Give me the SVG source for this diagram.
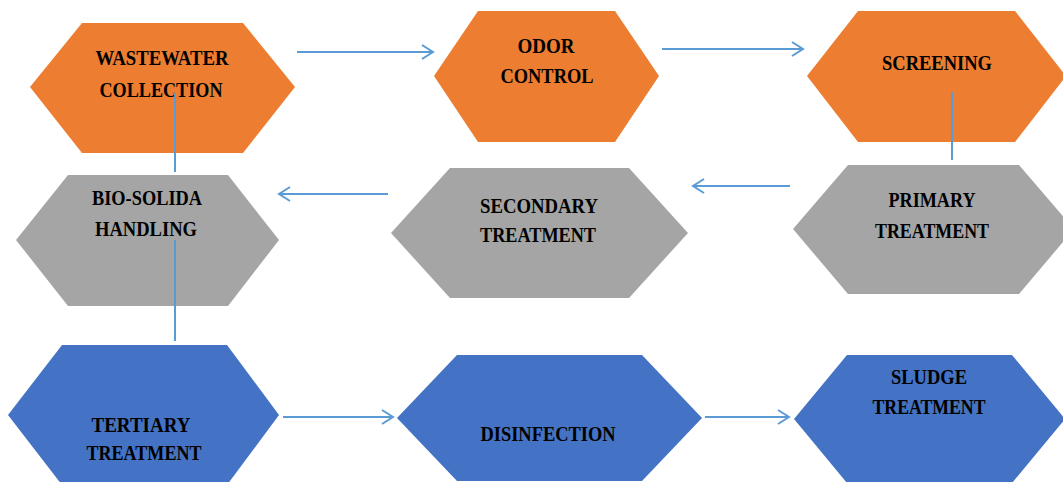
<svg xmlns="http://www.w3.org/2000/svg" width="1063" height="482" viewBox="0 0 1063 482">
<style>
.orange{fill:#ED7D31}
.gray{fill:#A5A5A5}
.blue{fill:#4472C4}
.lbl{font-family:"Liberation Serif","Times New Roman",serif;font-weight:bold;font-size:21px;fill:#000;text-anchor:middle}
.conn{stroke:#5B9BD5;stroke-width:2;fill:none}
</style>
<defs>
<marker id="arr" markerUnits="userSpaceOnUse" markerWidth="14" markerHeight="16" viewBox="0 0 14 16" refX="12" refY="8" orient="auto">
<path d="M1,1 L12,8 L1,15" fill="none" stroke="#5B9BD5" stroke-width="2"/>
</marker>
</defs>
<rect width="1063" height="482" fill="#fff"/>
<g id="wastewater-collection">
<polygon class="orange" points="30,87 82,23 243,23 295,87 243,153 82,153"/>
<text class="lbl" x="162" y="65" textLength="133" lengthAdjust="spacingAndGlyphs">WASTEWATER</text>
<text class="lbl" x="161" y="97" textLength="123" lengthAdjust="spacingAndGlyphs">COLLECTION</text>
</g>
<g id="odor-control">
<polygon class="orange" points="434,76 478,11 615,11 659,76 615,142 478,142"/>
<text class="lbl" x="546" y="53" textLength="57" lengthAdjust="spacingAndGlyphs">ODOR</text>
<text class="lbl" x="547" y="83" textLength="93" lengthAdjust="spacingAndGlyphs">CONTROL</text>
</g>
<g id="screening">
<polygon class="orange" points="807,76 858,11 1015,11 1066,76 1015,142 858,142"/>
<text class="lbl" x="937" y="70" textLength="110" lengthAdjust="spacingAndGlyphs">SCREENING</text>
</g>
<g id="bio-solida-handling">
<polygon class="gray" points="16,240 68,175 228,175 279,240 228,306 68,306"/>
<text class="lbl" x="147" y="205" textLength="110" lengthAdjust="spacingAndGlyphs">BIO-SOLIDA</text>
<text class="lbl" x="146" y="236" textLength="102" lengthAdjust="spacingAndGlyphs">HANDLING</text>
</g>
<g id="secondary-treatment">
<polygon class="gray" points="391,233 450,168 629,168 688,233 629,298 450,298"/>
<text class="lbl" x="539" y="213" textLength="118" lengthAdjust="spacingAndGlyphs">SECONDARY</text>
<text class="lbl" x="538" y="242" textLength="116" lengthAdjust="spacingAndGlyphs">TREATMENT</text>
</g>
<g id="primary-treatment">
<polygon class="gray" points="793,229 848,165 1019,165 1074,229 1019,294 848,294"/>
<text class="lbl" x="932" y="207" textLength="87" lengthAdjust="spacingAndGlyphs">PRIMARY</text>
<text class="lbl" x="932" y="238" textLength="114" lengthAdjust="spacingAndGlyphs">TREATMENT</text>
</g>
<g id="tertiary-treatment">
<polygon class="blue" points="8,415 62,345 227,345 279,415 227,485 62,485"/>
<text class="lbl" x="141" y="432" textLength="99" lengthAdjust="spacingAndGlyphs">TERTIARY</text>
<text class="lbl" x="144" y="460" textLength="115" lengthAdjust="spacingAndGlyphs">TREATMENT</text>
</g>
<g id="disinfection">
<polygon class="blue" points="397,418 457,355 642,355 702,418 642,481 457,481"/>
<text class="lbl" x="548" y="441" textLength="135" lengthAdjust="spacingAndGlyphs">DISINFECTION</text>
</g>
<g id="sludge-treatment">
<polygon class="blue" points="794,419 847,355 1012,355 1065,419 1012,483 847,483"/>
<text class="lbl" x="929" y="384" textLength="76" lengthAdjust="spacingAndGlyphs">SLUDGE</text>
<text class="lbl" x="929" y="414" textLength="113" lengthAdjust="spacingAndGlyphs">TREATMENT</text>
</g>
<g id="connectors">
<line class="conn" x1="297" y1="52" x2="433" y2="52" marker-end="url(#arr)"/>
<line class="conn" x1="662" y1="49" x2="803" y2="49" marker-end="url(#arr)"/>
<line class="conn" x1="790" y1="186" x2="693" y2="186" marker-end="url(#arr)"/>
<line class="conn" x1="388" y1="194" x2="279" y2="194" marker-end="url(#arr)"/>
<line class="conn" x1="283" y1="417" x2="393" y2="417" marker-end="url(#arr)"/>
<line class="conn" x1="705" y1="417" x2="789" y2="417" marker-end="url(#arr)"/>
<line class="conn" x1="175" y1="93" x2="175" y2="172"/>
<line class="conn" x1="175" y1="240" x2="175" y2="341"/>
<line class="conn" x1="952" y1="92" x2="952" y2="160"/>
</g>
</svg>
